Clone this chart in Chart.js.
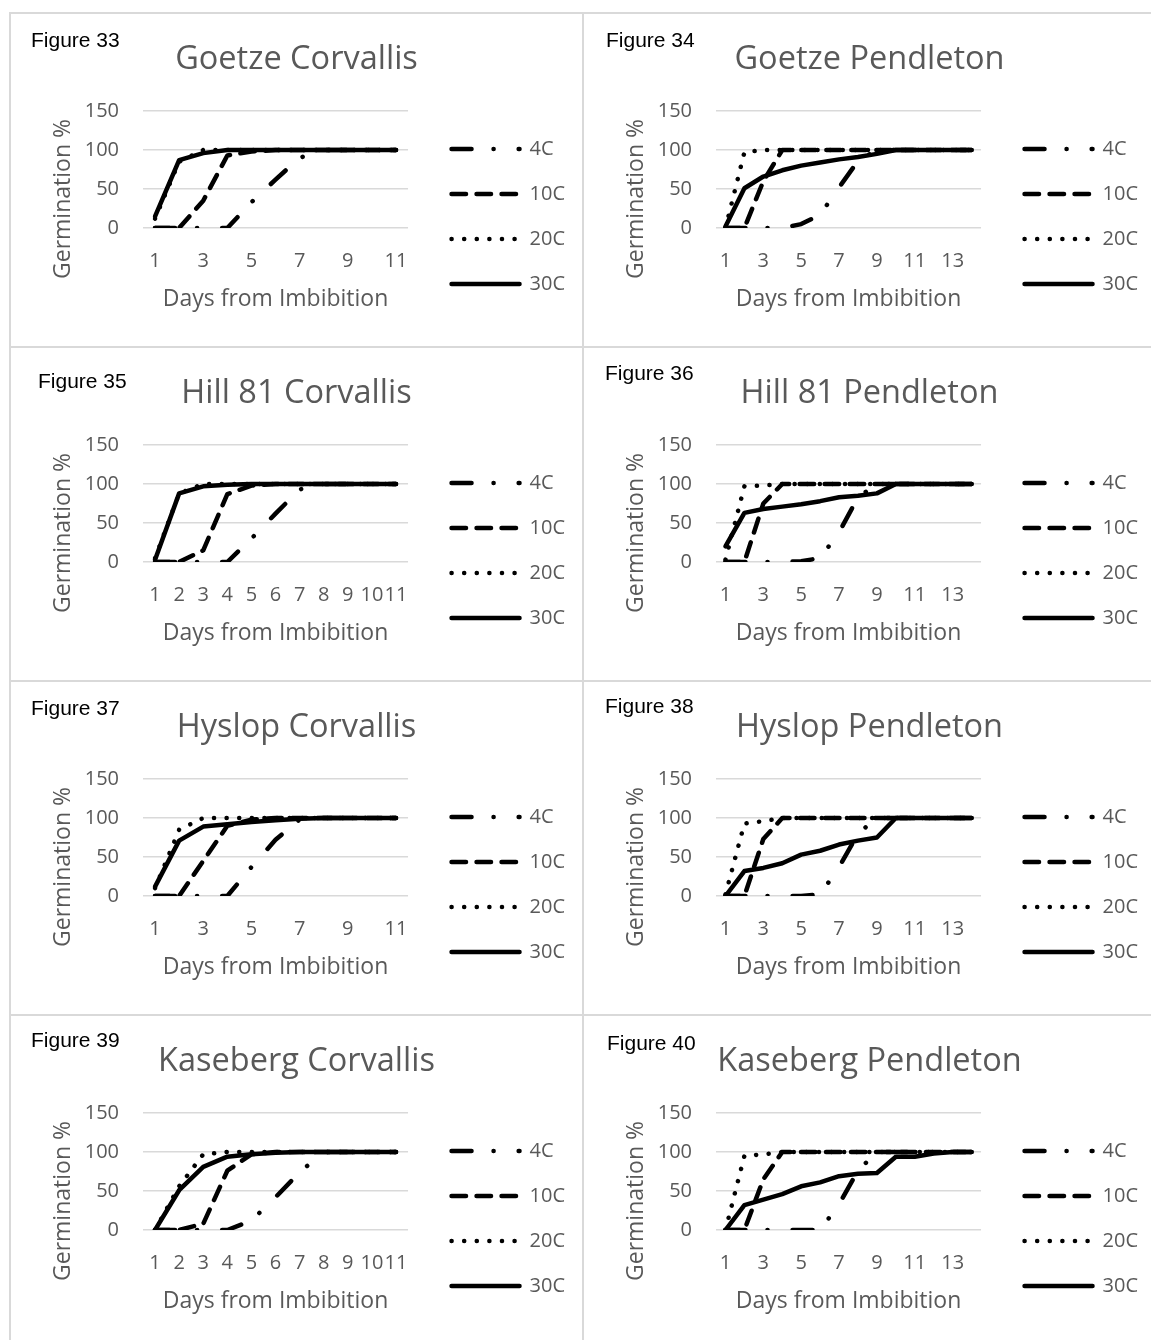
<!DOCTYPE html>
<html>
<head>
<meta charset="utf-8">
<script src="https://cdn.jsdelivr.net/npm/chart.js@4/dist/chart.umd.min.js"></script>
<style>
  body { margin: 0; width: 1151px; height: 1340px; overflow: hidden; background: #fff; position: relative; }
  .cell { position: absolute; width: 573px; height: 334px; box-sizing: border-box;
          border-left: 2px solid #d9d9d9; border-top: 2px solid #d9d9d9; }
  .cell canvas { position: absolute; left: -2px; top: -2px; }
  .fig { position: absolute; font: 21px/21px "Liberation Sans", Arial, sans-serif; color: #000; white-space: nowrap; }
</style>
</head>
<body>
<script>
// days on the x axis
const days11 = [1, 2, 3, 4, 5, 6, 7, 8, 9, 10, 11];
const days14 = [1, 2, 3, 4, 5, 6, 7, 8, 9, 10, 11, 12, 13, 14];
const seriesNames = ['4C', '10C', '20C', '30C'];
const yTickValues = [0, 50, 100, 150];

// Figure 33 - Goetze Corvallis
const goetzeCorv4C  = [0, 0, 0, 0, 33, 62, 90, 100, 100, 100, 100];
const goetzeCorv10C = [0, 0, 35, 93, 98, 100, 100, 100, 100, 100, 100];
const goetzeCorv20C = [12, 85, 100, 100, 100, 100, 100, 100, 100, 100, 100];
const goetzeCorv30C = [15, 87, 96, 100, 100, 100, 100, 100, 100, 100, 100];

// Figure 34 - Goetze Pendleton
const goetzePend4C  = [0, 0, 0, 0, 5, 17, 52, 86, 100, 100, 100, 100, 100, 100];
const goetzePend10C = [0, 0, 60, 100, 100, 100, 100, 100, 100, 100, 100, 100, 100, 100];
const goetzePend20C = [0, 97, 100, 100, 100, 100, 100, 100, 100, 100, 100, 100, 100, 100];
const goetzePend30C = [2, 51, 66, 74, 80, 84, 88, 91, 95, 100, 100, 100, 100, 100];

// Figure 35 - Hill 81 Corvallis
const hillCorv4C  = [0, 0, 0, 0, 30, 62, 93, 100, 100, 100, 100];
const hillCorv10C = [0, 0, 15, 87, 98, 100, 100, 100, 100, 100, 100];
const hillCorv20C = [5, 88, 100, 100, 100, 100, 100, 100, 100, 100, 100];
const hillCorv30C = [3, 88, 97, 99, 100, 100, 100, 100, 100, 100, 100];

// Figure 36 - Hill 81 Pendleton
const hillPend4C  = [0, 0, 0, 0, 1, 5, 38, 83, 100, 100, 100, 100, 100, 100];
const hillPend10C = [0, 0, 75, 100, 100, 100, 100, 100, 100, 100, 100, 100, 100, 100];
const hillPend20C = [3, 97, 98, 100, 100, 100, 100, 100, 100, 100, 100, 100, 100, 100];
const hillPend30C = [20, 63, 68, 71, 74, 78, 83, 85, 88, 100, 100, 100, 100, 100];

// Figure 37 - Hyslop Corvallis
const hyslopCorv4C  = [0, 0, 0, 0, 37, 72, 98, 100, 100, 100, 100];
const hyslopCorv10C = [0, 0, 45, 90, 98, 100, 100, 100, 100, 100, 100];
const hyslopCorv20C = [10, 85, 100, 100, 100, 100, 100, 100, 100, 100, 100];
const hyslopCorv30C = [12, 71, 89, 92, 95, 97, 99, 100, 100, 100, 100];

// Figure 38 - Hyslop Pendleton
const hyslopPend4C  = [0, 0, 0, 0, 0, 2, 37, 80, 100, 100, 100, 100, 100, 100];
const hyslopPend10C = [0, 0, 73, 100, 100, 100, 100, 100, 100, 100, 100, 100, 100, 100];
const hyslopPend20C = [2, 93, 96, 100, 100, 100, 100, 100, 100, 100, 100, 100, 100, 100];
const hyslopPend30C = [0, 32, 36, 42, 53, 58, 66, 71, 75, 100, 100, 100, 100, 100];

// Figure 39 - Kaseberg Corvallis
const kasebergCorv4C  = [0, 0, 0, 0, 12, 42, 74, 100, 100, 100, 100];
const kasebergCorv10C = [0, 0, 8, 76, 97, 100, 100, 100, 100, 100, 100];
const kasebergCorv20C = [0, 56, 97, 100, 100, 100, 100, 100, 100, 100, 100];
const kasebergCorv30C = [0, 51, 81, 94, 97, 99, 100, 100, 100, 100, 100];

// Figure 40 - Kaseberg Pendleton
const kasebergPend4C  = [0, 0, 0, 0, 0, 0, 33, 76, 100, 100, 100, 100, 100, 100];
const kasebergPend10C = [0, 0, 65, 100, 100, 100, 100, 100, 100, 100, 100, 100, 100, 100];
const kasebergPend20C = [0, 95, 97, 100, 100, 100, 100, 100, 100, 100, 100, 100, 100, 100];
const kasebergPend30C = [0, 32, 39, 46, 56, 61, 69, 72, 73, 94, 94, 98, 100, 100];

const figures = [
  { num: 33, title: 'Goetze Corvallis',   days: days11, step: 2, series: [goetzeCorv4C, goetzeCorv10C, goetzeCorv20C, goetzeCorv30C] },
  { num: 34, title: 'Goetze Pendleton',   days: days14, step: 2, series: [goetzePend4C, goetzePend10C, goetzePend20C, goetzePend30C] },
  { num: 35, title: 'Hill 81 Corvallis',  days: days11, step: 1, series: [hillCorv4C, hillCorv10C, hillCorv20C, hillCorv30C] },
  { num: 36, title: 'Hill 81 Pendleton',  days: days14, step: 2, series: [hillPend4C, hillPend10C, hillPend20C, hillPend30C] },
  { num: 37, title: 'Hyslop Corvallis',   days: days11, step: 2, series: [hyslopCorv4C, hyslopCorv10C, hyslopCorv20C, hyslopCorv30C] },
  { num: 38, title: 'Hyslop Pendleton',   days: days14, step: 2, series: [hyslopPend4C, hyslopPend10C, hyslopPend20C, hyslopPend30C] },
  { num: 39, title: 'Kaseberg Corvallis', days: days11, step: 1, series: [kasebergCorv4C, kasebergCorv10C, kasebergCorv20C, kasebergCorv30C] },
  { num: 40, title: 'Kaseberg Pendleton', days: days14, step: 2, series: [kasebergPend4C, kasebergPend10C, kasebergPend20C, kasebergPend30C] }
];

// page layout (cell grid + "Figure NN" label spots: left, cap top)
const colX = [9, 582];
const rowY = [12, 346, 680, 1014];
const figLabelPos = [[23, 20], [25, 20], [30, 27], [24, 19], [23, 20], [24, 18], [23, 18], [26, 21]];

// line styles: long dash dot, long dash, round dot, solid
const dashes = [[20, 22, 0.1, 25], [14.5, 10.5], [0.1, 12.5], []];
const gray = '#595959';

Chart.defaults.font.family = 'Open Sans';
Chart.defaults.color = gray;

// y axis title sits lower than the plot centre in the original, so draw it by hand
const yTitle = {
  id: 'yTitle',
  afterDraw(chart) {
    const { ctx, chartArea } = chart;
    ctx.save();
    ctx.translate(chartArea.left - 80, chartArea.bottom - 29);
    ctx.rotate(-Math.PI / 2);
    ctx.font = '23px "Open Sans"';
    ctx.fillStyle = gray;
    ctx.textAlign = 'center';
    ctx.textBaseline = 'middle';
    ctx.fillText('Germination %', 0, 0);
    ctx.restore();
  }
};

figures.forEach((f, k) => {
  const cell = document.createElement('div');
  cell.className = 'cell';
  cell.style.left = colX[k % 2] + 'px';
  cell.style.top = rowY[Math.floor(k / 2)] + 'px';
  document.body.appendChild(cell);

  const canvas = document.createElement('canvas');
  canvas.width = 573;
  canvas.height = 334;
  cell.appendChild(canvas);

  const lab = document.createElement('div');
  lab.className = 'fig';
  lab.textContent = 'Figure ' + f.num;
  lab.style.left = (figLabelPos[k][0] - 3) + 'px';
  lab.style.top = (figLabelPos[k][1] - 5) + 'px';
  cell.appendChild(lab);

  new Chart(canvas, {
    type: 'line',
    data: {
      labels: f.days,
      datasets: seriesNames.map((name, i) => ({
        label: name,
        data: f.series[i],
        borderColor: '#000',
        backgroundColor: '#000',
        borderWidth: 4.5,
        borderDash: dashes[i],
        borderCapStyle: 'round',
        borderJoinStyle: 'round',
        pointRadius: 0,
        pointHoverRadius: 0,
        tension: 0,
        fill: false
      }))
    },
    options: {
      responsive: false,
      animation: false,
      events: [],
      layout: { padding: { left: 9, right: 7, top: 0, bottom: 27 } },
      plugins: {
        title: {
          display: true,
          text: f.title,
          color: gray,
          font: { size: 32.5, weight: 'normal' },
          padding: { top: 28, bottom: 32 }
        },
        legend: {
          position: 'right',
          align: 'end',
          maxWidth: 220,
          labels: {
            usePointStyle: true,
            pointStyleWidth: 68,
            padding: 25,
            color: gray,
            font: { size: 20 },
            generateLabels(chart) {
              const items = Chart.defaults.plugins.legend.labels.generateLabels(chart);
              items.forEach(it => {
                const ds = chart.data.datasets[it.datasetIndex];
                it.lineDash = ds.borderDash;
                it.lineCap = 'round';
                it.lineWidth = ds.borderWidth;
                it.strokeStyle = '#000';
                it.pointStyle = 'line';
                it.rotation = 180;
              });
              return items;
            }
          }
        },
        tooltip: { enabled: false }
      },
      scales: {
        x: {
          offset: true,
          grid: { display: false, drawTicks: false },
          border: { display: false },
          ticks: {
            autoSkip: false,
            maxRotation: 0,
            padding: 21,
            font: { size: 20 },
            callback(v, i) { return i % f.step === 0 ? this.getLabelForValue(v) : ''; }
          },
          title: {
            display: true,
            text: 'Days from Imbibition',
            font: { size: 23 },
            padding: { top: -8.1, bottom: 5.5 }
          }
        },
        y: {
          min: 0,
          max: 150,
          afterBuildTicks(s) { s.ticks = yTickValues.map(v => ({ value: v })); },
          ticks: { padding: 24, font: { size: 20 } },
          grid: { color: '#d9d9d9', lineWidth: 1.5, drawTicks: false },
          border: { display: false },
          afterFit(s) { s.width = 125; }
        },
        gap: {
          type: 'linear',
          position: 'right',
          display: true,
          grid: { display: false, drawTicks: false },
          border: { display: false },
          ticks: { display: false },
          afterFit(s) { s.width = 18.5; }
        }
      }
    },
    plugins: [yTitle]
  });
});
</script>
</body>
</html>
